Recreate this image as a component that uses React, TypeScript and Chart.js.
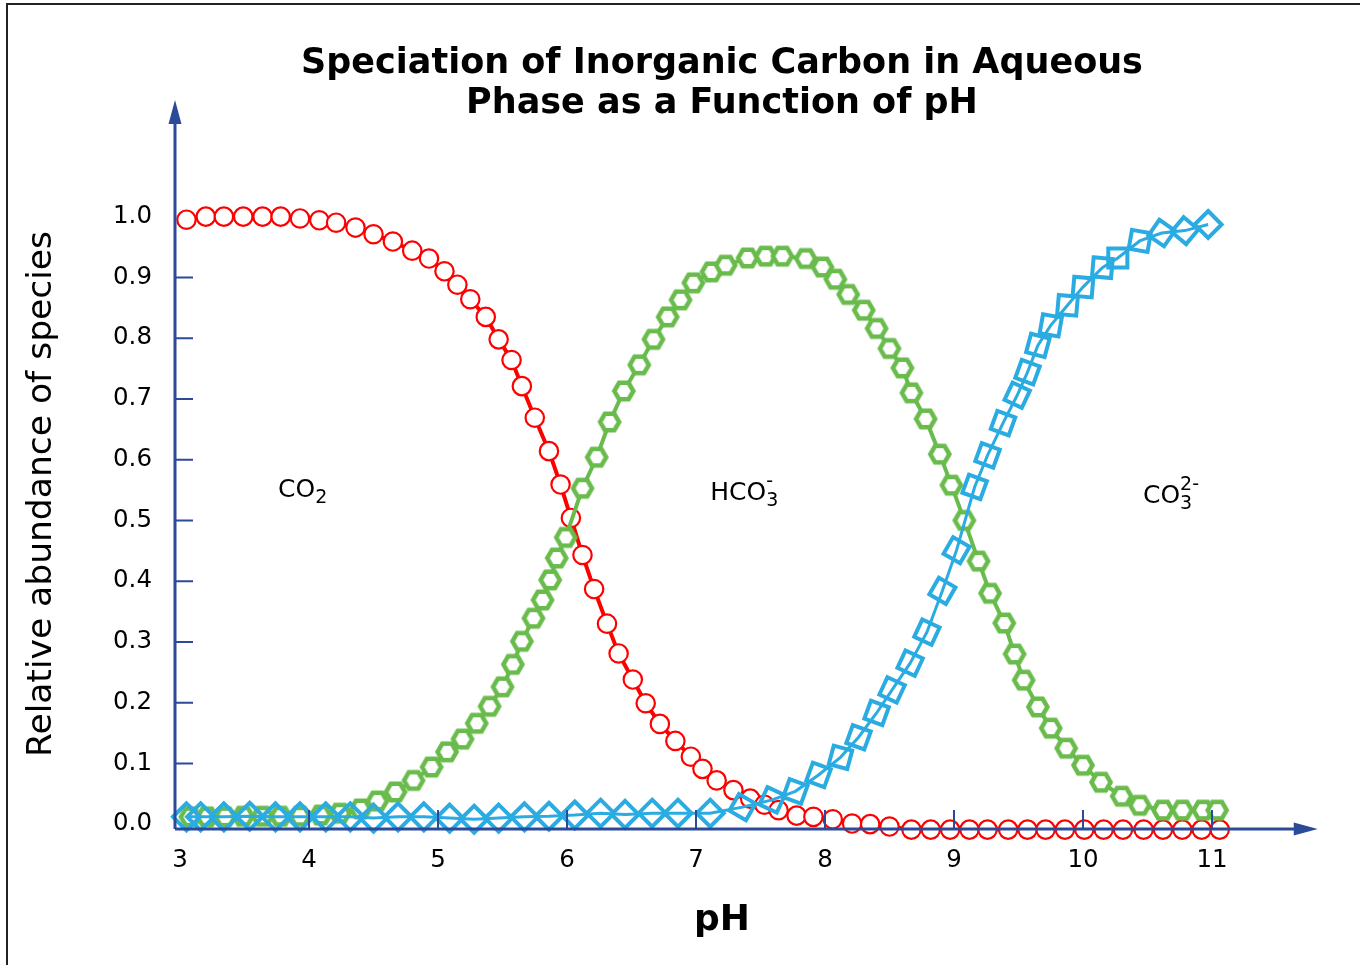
import React, { useEffect, useRef } from 'react';
import { Chart, registerables } from 'chart.js';

Chart.register(...registerables);

// ---- data ----
const xTickValues = [3, 4, 5, 6, 7, 8, 9, 10, 11];
const yTickValues = [0, 0.1, 0.2, 0.3, 0.4, 0.5, 0.6, 0.7, 0.8, 0.9, 1.0];

const redPH = [3.05, 3.2, 3.34, 3.49, 3.64, 3.78, 3.93, 4.08, 4.21, 4.36, 4.5, 4.65, 4.8, 4.93,
  5.05, 5.15, 5.25, 5.37, 5.47, 5.57, 5.65, 5.75, 5.86, 5.95,
  6.03, 6.12, 6.21, 6.31, 6.4, 6.51, 6.61, 6.72, 6.84, 6.96,
  7.05, 7.16, 7.29, 7.42, 7.53, 7.64, 7.78, 7.91,
  8.06, 8.21, 8.35, 8.5, 8.67, 8.82, 8.97,
  9.12, 9.26, 9.42, 9.57, 9.71, 9.86,
  10.01, 10.16, 10.31, 10.47, 10.62, 10.77, 10.92,
  11.06];
const redFrac = [0.995, 1.0, 1.0, 1.0, 1.0, 1.0, 0.997, 0.994, 0.99, 0.982, 0.971, 0.959, 0.944, 0.931,
  0.91, 0.888, 0.864, 0.835, 0.798, 0.764, 0.721, 0.669, 0.614, 0.559,
  0.504, 0.443, 0.387, 0.33, 0.281, 0.238, 0.199, 0.165, 0.137, 0.111,
  0.091, 0.072, 0.056, 0.042, 0.032, 0.023, 0.014, 0.012,
  0.008, 0.001, 0.0, -0.004, -0.009, -0.009, -0.009,
  -0.009, -0.009, -0.009, -0.009, -0.009, -0.009,
  -0.009, -0.009, -0.009, -0.009, -0.009, -0.009, -0.009,
  -0.009];

const greenPH = [3.08, 3.21, 3.35, 3.49, 3.64, 3.78, 3.93, 4.09, 4.24, 4.4, 4.53, 4.67, 4.81, 4.95,
  5.07, 5.19, 5.3, 5.4, 5.5, 5.58, 5.65, 5.74, 5.81, 5.87, 5.92, 5.99,
  6.12, 6.23, 6.33, 6.44, 6.56, 6.67, 6.78, 6.88, 6.98,
  7.12, 7.23, 7.4, 7.54, 7.67, 7.85, 7.98,
  8.08, 8.18, 8.3, 8.4, 8.5, 8.6, 8.67, 8.78, 8.89, 8.98,
  9.08, 9.19, 9.28, 9.39, 9.47, 9.54, 9.65, 9.75, 9.87,
  10.0, 10.14, 10.3, 10.44, 10.62, 10.77, 10.93,
  11.04];
const greenFrac = [0.012, 0.012, 0.012, 0.013, 0.013, 0.013, 0.013, 0.015, 0.018, 0.025, 0.038, 0.053, 0.072, 0.094,
  0.119, 0.14, 0.166, 0.194, 0.226, 0.263, 0.301, 0.339, 0.369, 0.402, 0.438, 0.472,
  0.553, 0.604, 0.662, 0.713, 0.756, 0.798, 0.835, 0.863, 0.891,
  0.909, 0.92, 0.932, 0.935, 0.935, 0.931, 0.917,
  0.897, 0.872, 0.846, 0.816, 0.783, 0.751, 0.71, 0.667, 0.609, 0.558,
  0.5, 0.433, 0.38, 0.331, 0.28, 0.237, 0.193, 0.158, 0.125,
  0.097, 0.069, 0.046, 0.031, 0.023, 0.023, 0.023,
  0.023];

const bluePH = [3.05, 3.16, 3.34, 3.54, 3.74, 3.93,
  4.13, 4.32, 4.5, 4.69, 4.89,
  5.09, 5.28, 5.47, 5.67, 5.86,
  6.06, 6.26, 6.45, 6.66, 6.86,
  7.11, 7.36, 7.59, 7.77, 7.95,
  8.12, 8.26, 8.4, 8.52, 8.66, 8.79, 8.91,
  9.02, 9.16, 9.26, 9.38, 9.49, 9.57, 9.65, 9.75, 9.88,
  10.0, 10.15, 10.27, 10.44, 10.61, 10.79, 10.97];
const blueFrac = [0.012, 0.012, 0.012, 0.013, 0.012, 0.012,
  0.012, 0.012, 0.01, 0.012, 0.012,
  0.01, 0.008, 0.01, 0.012, 0.013,
  0.015, 0.018, 0.016, 0.018, 0.018,
  0.018, 0.028, 0.04, 0.054, 0.081,
  0.11, 0.143, 0.183, 0.221, 0.265, 0.316, 0.384,
  0.451, 0.555, 0.607, 0.66, 0.706, 0.744, 0.788, 0.821, 0.854,
  0.884, 0.916, 0.932, 0.96, 0.973, 0.977, 0.987];

// style: tilt of each square marker (degrees)
const diamondTilt = [45, 45, 45, 45, 45, 45, 45, 45, 45, 45, 45, 45, 45, 45, 45, 45, 45, 45, 45, 45, 45, 45,
  30, 25, 20, 20, 15, 20, 20, 25, 25, 25, 30, 30, 20, 20, 20, 25, 20, 15, 10, 5, 5, 5, 0, 10, 35, 40, 45];

const titleLines = ['Speciation of Inorganic Carbon in Aqueous', 'Phase as a Function of pH'];
const yTitle = 'Relative abundance of species';
const xTitle = 'pH';

const AXIS = '#2C4A9A';
const RED = '#FF0000';
const GREEN = '#69BB4C';
const BLUE = '#2AABE2';
const FONT = '"DejaVu Sans", Verdana, sans-serif';

const zip = (xs: number[], ys: number[]) => xs.map((x, i) => ({ x, y: ys[i] }));

function drawChem(ctx: CanvasRenderingContext2D, x: number, y: number, base: string, sub: string, sup: string) {
  ctx.font = `25px ${FONT}`;
  ctx.textAlign = 'left';
  ctx.textBaseline = 'middle';
  ctx.fillText(base, x, y);
  const w = ctx.measureText(base).width;
  ctx.font = `19px ${FONT}`;
  if (sub) ctx.fillText(sub, x + w, y + 8);
  if (sup) ctx.fillText(sup, x + w, y - 11);
}

const decor = {
  id: 'decor',
  beforeDraw(chart: any) {
    const { ctx, width, height } = chart;
    ctx.save();
    ctx.fillStyle = '#fff';
    ctx.fillRect(0, 0, width, height);
    ctx.strokeStyle = '#222';
    ctx.lineWidth = 2;
    ctx.strokeRect(7, 4, width + 20, height + 20);
    ctx.restore();
  },
  afterDatasetsDraw(chart: any) {
    const { ctx, chartArea, scales } = chart;
    const xs = scales.x;
    const ys = scales.y;
    const x0 = chartArea.left;
    const yb = chartArea.bottom;
    const tipX = xs.getPixelForValue(11.82);
    ctx.save();
    ctx.strokeStyle = AXIS;
    ctx.fillStyle = AXIS;
    ctx.lineWidth = 3;
    ctx.beginPath();
    ctx.moveTo(x0, yb);
    ctx.lineTo(x0, chartArea.top + 20);
    ctx.moveTo(x0, yb);
    ctx.lineTo(tipX - 20, yb);
    ctx.stroke();
    ctx.beginPath();
    ctx.moveTo(x0, chartArea.top);
    ctx.lineTo(x0 - 6.5, chartArea.top + 24);
    ctx.lineTo(x0 + 6.5, chartArea.top + 24);
    ctx.closePath();
    ctx.fill();
    ctx.beginPath();
    ctx.moveTo(tipX, yb);
    ctx.lineTo(tipX - 24, yb - 6.5);
    ctx.lineTo(tipX - 24, yb + 6.5);
    ctx.closePath();
    ctx.fill();
    ctx.lineWidth = 2;
    ctx.beginPath();
    xTickValues.slice(1).forEach((v) => {
      const px = xs.getPixelForValue(v);
      ctx.moveTo(px, yb);
      ctx.lineTo(px, yb - 19);
    });
    yTickValues.slice(1, 10).forEach((v) => {
      const py = ys.getPixelForValue(v);
      ctx.moveTo(x0, py);
      ctx.lineTo(x0 + 18, py);
    });
    ctx.stroke();
    ctx.restore();
  },
  afterDraw(chart: any) {
    const { ctx, chartArea, scales } = chart;
    const xs = scales.x;
    const ys = scales.y;
    const cx = (chartArea.left + chartArea.right) / 2;
    ctx.save();
    ctx.fillStyle = '#000';
    ctx.textAlign = 'center';
    ctx.textBaseline = 'middle';
    ctx.font = `bold 35px ${FONT}`;
    ctx.fillText(titleLines[0], cx, 64);
    ctx.fillText(titleLines[1], cx, 104);
    ctx.font = `bold 36px ${FONT}`;
    ctx.fillText(xTitle, cx, 921);
    ctx.save();
    ctx.translate(42, 494);
    ctx.rotate(-Math.PI / 2);
    ctx.font = `34.5px ${FONT}`;
    ctx.fillText(yTitle, 0, 0);
    ctx.restore();
    drawChem(ctx, xs.getPixelForValue(3.76), ys.getPixelForValue(0.55), 'CO', '2', '');
    drawChem(ctx, xs.getPixelForValue(7.11), ys.getPixelForValue(0.545), 'HCO', '3', '-');
    drawChem(ctx, xs.getPixelForValue(10.465), ys.getPixelForValue(0.54), 'CO', '3', '2-');
    ctx.restore();
  },
};

export default function App() {
  const ref = useRef<HTMLCanvasElement>(null);
  useEffect(() => {
    const hex = document.createElement('canvas');
    hex.width = 32;
    hex.height = 32;
    const h = hex.getContext('2d')!;
    h.beginPath();
    for (let i = 0; i < 6; i++) {
      const a = (i * Math.PI) / 3;
      h.lineTo(16 + 9.5 * Math.cos(a), 16 + 9.5 * Math.sin(a));
    }
    h.closePath();
    h.fillStyle = '#fff';
    h.fill();
    h.strokeStyle = GREEN;
    h.lineWidth = 4.5;
    h.lineJoin = 'miter';
    h.stroke();

    const chart = new Chart(ref.current!, {
      type: 'line',
      data: {
        datasets: [
          {
            label: 'CO3 2-',
            data: zip(bluePH, blueFrac),
            order: 1,
            borderColor: BLUE,
            borderWidth: 3,
            pointStyle: 'rect',
            pointRotation: diamondTilt,
            pointRadius: 13.5,
            pointBorderWidth: 4,
            pointBorderColor: BLUE,
            pointBackgroundColor: 'rgba(255,255,255,0)',
            tension: 0,
            clip: false,
          },
          {
            label: 'HCO3-',
            data: zip(greenPH, greenFrac),
            order: 2,
            borderColor: GREEN,
            borderWidth: 4,
            pointStyle: hex,
            pointRadius: 12,
            tension: 0,
            clip: false,
          },
          {
            label: 'CO2',
            data: zip(redPH, redFrac),
            order: 3,
            borderColor: RED,
            borderWidth: 4,
            pointStyle: 'circle',
            pointRadius: 9.2,
            pointBorderWidth: 2.2,
            pointBorderColor: RED,
            pointBackgroundColor: '#fff',
            tension: 0,
            clip: false,
          },
        ] as any,
      },
      options: {
        animation: false,
        responsive: false,
        devicePixelRatio: 1,
        events: [],
        layout: { padding: { left: 0, right: 91, top: 100, bottom: 0 } },
        plugins: { legend: { display: false }, title: { display: false }, tooltip: { enabled: false } },
        scales: {
          x: {
            type: 'linear',
            min: 2.961,
            max: 11.442,
            afterFit: (s: any) => { s.height = 136; },
            afterBuildTicks: (s: any) => { s.ticks = xTickValues.map((v) => ({ value: v })); },
            grid: { display: false, drawTicks: false },
            border: { display: false },
            ticks: { color: '#000', font: { family: FONT, size: 24.5 }, padding: 17, maxRotation: 0, autoSkip: false, callback: (v: any) => String(v) },
          },
          y: {
            type: 'linear',
            min: -0.008,
            max: 1.192,
            afterFit: (s: any) => { s.width = 175; },
            afterBuildTicks: (s: any) => { s.ticks = yTickValues.map((v) => ({ value: v })); },
            grid: { display: false, drawTicks: false },
            border: { display: false },
            ticks: { color: '#000', font: { family: FONT, size: 24.5 }, padding: 23, autoSkip: false, callback: (v: any) => Number(v).toFixed(1) },
          },
        },
      } as any,
      plugins: [decor],
    });
    return () => chart.destroy();
  }, []);
  return (
    <div style={{ position: 'absolute', left: 0, top: 0, width: 1360, height: 965 }}>
      <canvas ref={ref} width={1360} height={965} style={{ display: 'block', width: 1360, height: 965 }} />
    </div>
  );
}
